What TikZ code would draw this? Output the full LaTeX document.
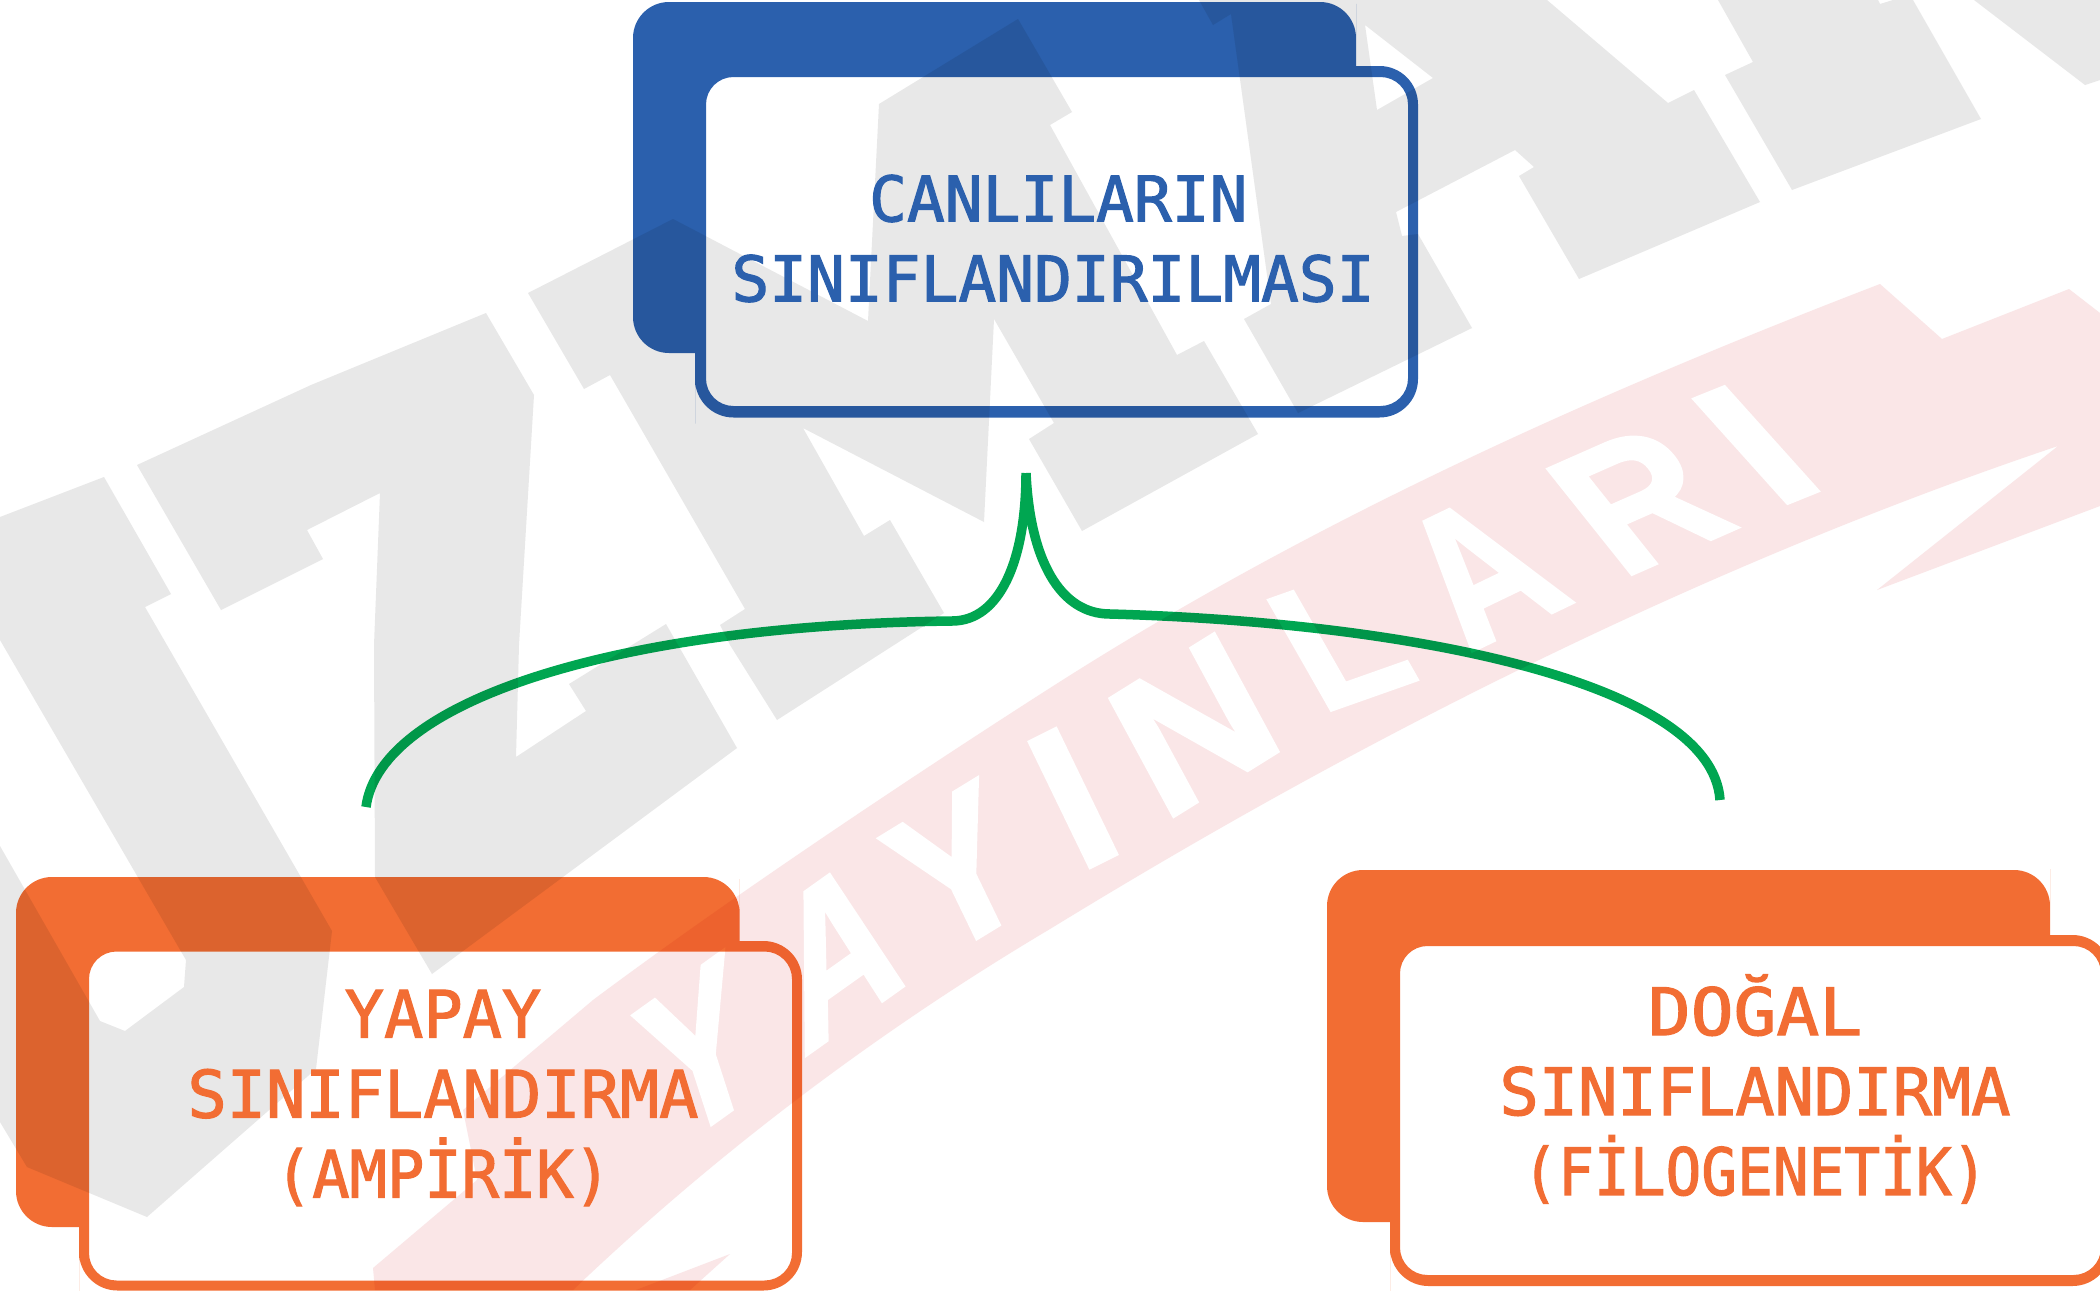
\documentclass[tikz,border=0pt]{standalone}
\usepackage{graphicx}
\usepackage{fontspec}
\newfontfamily\labelfont[FakeBold=1.8]{DejaVu Sans Mono}
\newfontfamily\wmfamily[BoldFeatures={FakeBold=2}]{Liberation Sans}
\definecolor{bluebox}{HTML}{2B60AD}
\definecolor{orangebox}{HTML}{F26D33}
\definecolor{bracegreen}{HTML}{00A651}
\definecolor{wmgray}{HTML}{E8E8E8}
\definecolor{wmpink}{HTML}{FAE6E7}
\tikzset{
  backcorner/.style={rounded corners=1.44cm},
  outercorner/.style={rounded corners=1.54cm},
  innercorner/.style={rounded corners=1.1cm},
  cardshape/.style={even odd rule},
  bluelabel/.style={text=bluebox,align=center,inner sep=0pt,font=\labelfont\fontsize{71.5}{91}\selectfont},
  orangelabel/.style={text=orangebox,align=center,inner sep=0pt,font=\labelfont\fontsize{74.3}{91}\selectfont},
  brace/.style={draw=bracegreen,line width=9.5*1.13811pt}
}
% watermark letter traced by centre, width vector and height vector (px, y down);
% #9 is the advance width of the glyph in em
\newcommand{\wmlet}[9]{%
  \pgfmathsetmacro\wma{#3*1.13811/(#9*158)}%
  \pgfmathsetmacro\wmb{-(#4)*1.13811/(#9*158)}%
  \pgfmathsetmacro\wmc{#5*1.13811/113.1}%
  \pgfmathsetmacro\wmd{-(#6)*1.13811/113.1}%
  \begin{scope}[shift={(#1,#2)}]
    \pgftransformcm{\wma}{\wmb}{\wmc}{\wmd}{\pgfpointorigin}
    \node[inner sep=0pt,outer sep=0pt,transform shape,text=white,font=\wmfamily\bfseries\fontsize{158}{158}\selectfont] (#8) at (0,0) {#7};
  \end{scope}}
\begin{document}
\begin{tikzpicture}[x=0.04cm,y=-0.04cm]
\useasboundingbox (0,0) rectangle (2100,1290);
\fill[white] (0,0) rectangle (2100,1290);
% pink band
\fill[wmpink] (1880,284) .. controls (1500,430) and (1250,560) .. (1050,688)
   .. controls (900,784) and (720,905) .. (593,1000) -- (463,1110) -- (477,1180) -- (373,1268) -- (375,1290) -- (573,1290)
   .. controls (720,1150) and (880,1030) .. (1050,929)
   .. controls (1220,825) and (1600,600) .. (2058,446)
   -- (1877,590) -- (2100,506) -- (2100,313) -- (2069,289) -- (1942,339) -- cycle;
\fill[wmpink] (636,1290) -- (730,1254) -- (690,1290) -- cycle;
% white letters of the band
\wmlet{700}{1050}{95}{-68}{-45}{-139}{Y}{wmA}{0.667}
\wmlet{836}{952}{104}{-74}{-39}{-142}{A}{wmB}{0.722}
\wmlet{958}{870}{103}{-63}{-62}{-128}{Y}{wmC}{0.667}
\wmlet{1073}{798}{50}{-25}{-63}{-130}{I}{wmD}{0.278}
\wmlet{1194}{725}{127}{-79}{-66}{-122}{N}{wmE}{0.722}
\wmlet{1340}{641}{102}{-36}{-65}{-114}{L}{wmF}{0.611}
\wmlet{1480}{571}{108}{-52}{-89}{-115}{A}{wmG}{0.722}
\wmlet{1639}{500}{120}{-53}{-87}{-109}{R}{wmH}{0.722}
\wmlet{1756}{445}{57}{-23}{-97}{-108}{I}{wmI}{0.278}
% grey watermark
\begin{scope}[blend mode=multiply]
\fill[wmgray] (0,517) -- (104,477) -- (171,594) -- (145,607) -- (332,931) -- (316,1069) -- (147,1217) -- (27,1167) -- (0,1122) -- (0,846) -- (100,1021) -- (125,1031) -- (184,987) -- (186,960) -- (0,640) -- cycle;
\fill[wmgray] (137,465) -- (311,385) -- (486,313) -- (534,395) -- (519,645) -- (516,757) -- (586,711) -- (569,684) -- (666,624) -- (737,748) -- (432,974) -- (375,877) -- (374,645) -- (380,493) -- (307,530) -- (323,559) -- (221,610) -- cycle;
\fill[wmgray] (528,293) -- (673,219) -- (868,321) -- (879,104) -- (1018,19) -- (1072,112) -- (1050,125) -- (1177,355) -- (1204,341) -- (1258,434) -- (1082,531) -- (1029,439) -- (1054,423) -- (994,319) -- (984,522) -- (803,428) -- (864,536) -- (890,520) -- (944,613) -- (777,720) -- (730,645) -- (720,625) -- (745,609) -- (610,375) -- (584,389) -- cycle;
\fill[wmgray,even odd rule] (1199,0) -- (1213,25) -- (1231,14) -- (1271,304) -- (1244,319) -- (1298,413) -- (1472,328) -- (1418,234) -- (1402,236) -- (1396,212) -- (1515,150) -- (1534,167) -- (1519,176) -- (1579,279) -- (1760,202) -- (1694,90) -- (1668,103) -- (1547,0) -- cycle
   (1365,25) -- (1433,78) -- (1377,110) -- cycle;
\fill[wmgray] (1718,0) -- (1753,62) -- (1725,75) -- (1792,190) -- (1981,119) -- (1913,0) -- (1893,0) -- (1880,4) -- (1878,0) -- cycle;
\fill[wmgray] (1974,0) -- (2085,85) -- (2100,80) -- (2100,0) -- cycle;
% foreground, printed over the watermark
% blue card
\fill[bluebox,cardshape] (695,353) [backcorner] -- (633,353) -- (633,2) -- (1356,2) -- (1356,40) [sharp corners] -- (1356,66) -- (1370,66) [outercorner] -- (1418,66) -- (1418,417.5) -- (695,417.5) -- (695,385) [sharp corners] -- cycle
   [innercorner] (706,77) rectangle (1408,406);
% left orange card
\fill[orangebox,cardshape] (79,1227) [backcorner] -- (16,1227) -- (16,877) -- (739.5,877) -- (739.5,915) [sharp corners] -- (739.5,941) -- (753,941) [outercorner] -- (802,941) -- (802,1290.5) -- (79,1290.5) -- (79,1260) [sharp corners] -- cycle
   [innercorner] (89,951.5) rectangle (792,1280.5);
% right orange card
\fill[orangebox,cardshape] (1390,1222) [backcorner] -- (1327,1222) -- (1327,870) -- (2050,870) -- (2050,905) [sharp corners] -- (2050,935) -- (2064,935) [outercorner] -- (2111,935) -- (2111,1286) -- (1390,1286) -- (1390,1255) [sharp corners] -- cycle
   [innercorner] (1400,946) rectangle (2101,1275);
% green brace
\coordinate (braceTop) at (1026,473);
\coordinate (braceLeft) at (366,807);
\coordinate (braceRight) at (1720,800);
\draw[brace] (braceTop) .. controls (1026,560) and (1000,621) .. (952,621)
   .. controls (620,625) and (380,700) .. (braceLeft)
   (braceTop) .. controls (1030,560) and (1060,614) .. (1110,614)
   .. controls (1400,622) and (1712,680) .. (braceRight);
\end{scope}
% labels
\node[bluelabel] (canlilarText) at (1053,238.5) {\hspace*{12pt}CANLILARIN\\SINIFLANDIRILMASI};
\node[orangelabel] (yapayText) at (443,1098) {YAPAY\\SINIFLANDIRMA\\\scalebox{0.95}[1]{(AMPİRİK)}};
\node[orangelabel] (dogalText) at (1755,1089) {\scalebox{1.09}[1]{DOĞAL}\\SINIFLANDIRMA\\\scalebox{0.91}[1]{(FİLOGENETİK)}};
\end{tikzpicture}
\end{document}
